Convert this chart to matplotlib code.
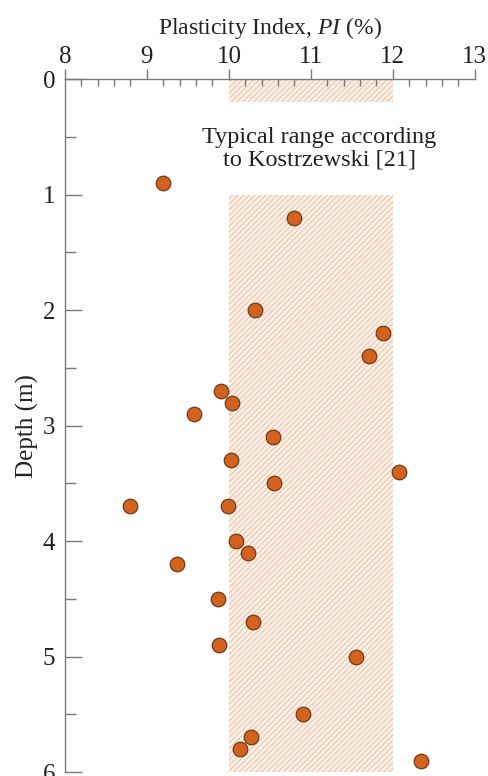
import numpy as np
import matplotlib.pyplot as plt
from matplotlib.ticker import MultipleLocator

# Plasticity index (%) and depth (m)
plasticity_index = [9.20, 10.80, 10.32, 11.88, 11.71, 9.90, 10.04, 9.57, 10.54, 10.02,
                    12.07, 10.55, 8.79, 9.99, 10.09, 10.23, 9.37, 9.87, 10.30, 9.88,
                    11.55, 10.90, 10.27, 10.13, 12.34]
depth = [0.9, 1.2, 2.0, 2.2, 2.4, 2.7, 2.8, 2.9, 3.1, 3.3,
         3.4, 3.5, 3.7, 3.7, 4.0, 4.1, 4.2, 4.5, 4.7, 4.9,
         5.0, 5.5, 5.7, 5.8, 5.9]

# typical range (Kostrzewski) and where the band is interrupted by its label
range_low, range_high = 10, 12
band_segments = [(0.0, 0.2), (1.0, 6.0)]
range_label = "Typical range according\nto Kostrzewski [21]"

plt.rcParams['font.family'] = ['Liberation Serif', 'DejaVu Serif']
plt.rcParams['mathtext.fontset'] = 'custom'
plt.rcParams['mathtext.rm'] = 'Liberation Serif'
plt.rcParams['mathtext.it'] = 'Liberation Serif:italic'
plt.rcParams['hatch.color'] = '#e9b99a'
plt.rcParams['hatch.linewidth'] = 0.6

axis_color = '#7a7a7a'
text_color = '#222222'

fig = plt.figure(figsize=(4.88, 7.76), dpi=100)
ax = fig.add_axes([0.133, 0.005, 0.84, 0.893])

# hatched band for the typical range
for y0, y1 in band_segments:
    ax.fill_betweenx([y0, y1], range_low, range_high, facecolor='#fcf0e6',
                     hatch='//////', edgecolor='none', linewidth=0, zorder=1)

ax.text(11.1, 0.6, range_label, ha='center', va='center', fontsize=17.5, color=text_color,
        linespacing=1.1)

ax.scatter(plasticity_index, depth, s=110, color='#d4621f', edgecolors='#6e3a1c',
           linewidths=0.9, zorder=3, clip_on=False)

ax.set_xlim(8, 13)
ax.set_ylim(6, 0)

ax.xaxis.tick_top()
ax.xaxis.set_label_position('top')
ax.set_xlabel('Plasticity Index, $\\it{PI}$ (%)', fontsize=17, labelpad=9, color=text_color)
ax.set_ylabel('Depth (m)', fontsize=18, labelpad=3, color=text_color)

ax.xaxis.set_major_locator(MultipleLocator(1))
ax.xaxis.set_minor_locator(MultipleLocator(0.2))
ax.yaxis.set_major_locator(MultipleLocator(1))
ax.yaxis.set_minor_locator(MultipleLocator(0.5))

ax.tick_params(axis='x', which='major', direction='out', length=7, width=1,
               color=axis_color, labelsize=18, pad=1, labelcolor=text_color)
ax.tick_params(axis='x', which='minor', direction='in', length=5, width=1, color=axis_color)
ax.tick_params(axis='y', which='major', direction='in', length=12, width=1,
               color=axis_color, labelsize=18, pad=7, labelcolor=text_color)
ax.tick_params(axis='y', which='minor', direction='in', length=8, width=1, color=axis_color)

for side in ['right', 'bottom']:
    ax.spines[side].set_visible(False)
for side in ['top', 'left']:
    ax.spines[side].set_color(axis_color)
    ax.spines[side].set_linewidth(1)

fig.savefig('out.png', dpi=100)
